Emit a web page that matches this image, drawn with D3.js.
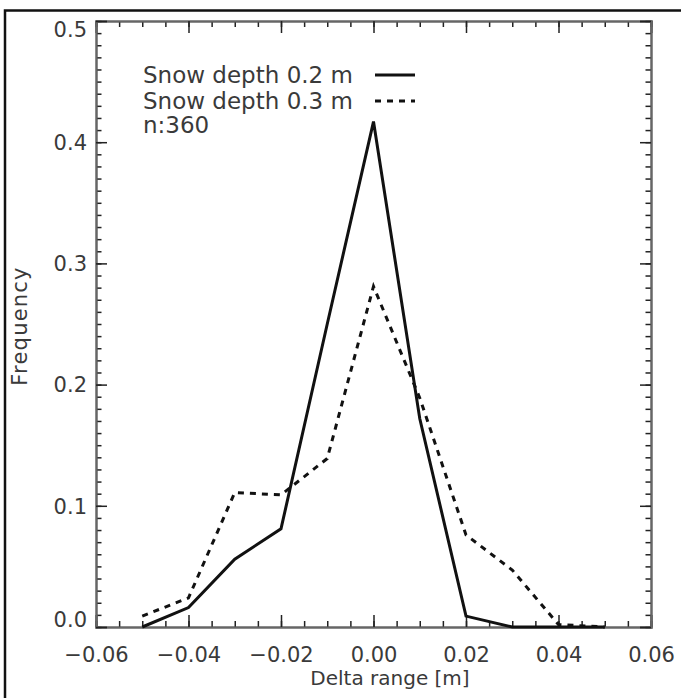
<!DOCTYPE html>
<html>
<head>
<meta charset="utf-8">
<script src="https://cdn.jsdelivr.net/npm/d3@7"></script>
<style>
  body { margin: 0; background: #fff; }
  svg text { font-family: "DejaVu Sans", sans-serif; fill: #3a3a3a; }
</style>
</head>
<body>
<svg id="chart" width="681" height="698"></svg>
<script>
// values
const deltaRange = [-0.05, -0.04, -0.03, -0.02, -0.01, 0.00, 0.01, 0.02, 0.03, 0.04, 0.05];
const depth02 = [0.000, 0.016, 0.056, 0.081, 0.250, 0.417, 0.172, 0.009, 0.000, 0.000, 0.000];
const depth03 = [0.009, 0.024, 0.111, 0.109, 0.139, 0.281, 0.189, 0.076, 0.047, 0.002, 0.000];
const xTicks = [-0.06, -0.04, -0.02, 0.00, 0.02, 0.04, 0.06];
const yTicks = [0.0, 0.1, 0.2, 0.3, 0.4, 0.5];
const legendLabels = ['Snow depth 0.2 m', 'Snow depth 0.3 m'];
const sampleNote = 'n:360';
const xTitle = 'Delta range [m]';
const yTitle = 'Frequency';

const svg = d3.select('#chart');
const plotL = 96, plotR = 651, plotT = 21, plotB = 627;

const x = d3.scaleLinear().domain([-0.06, 0.06]).range([plotL, plotR]);
const y = d3.scaleLinear().domain([0, 0.5]).range([plotB, plotT]);

// outer frame (runs off the right and bottom edges)
svg.append('rect')
  .attr('x', 5).attr('y', 10.5)
  .attr('width', 700).attr('height', 700)
  .attr('fill', 'none').attr('stroke', '#111').attr('stroke-width', 2.5);

// minor ticks first, majors on top
const xMinor = d3.range(-0.06, 0.0601, 0.005);
const yMinor = d3.range(0, 0.5001, 0.01);

function styleAxis(g) {
  g.select('.domain').attr('stroke', '#666').attr('stroke-width', 2);
  g.selectAll('.tick line').attr('stroke', '#222').attr('stroke-width', 1.5);
}

svg.append('g').attr('transform', `translate(0,${plotB})`)
  .call(d3.axisBottom(x).tickValues(xMinor).tickSize(-6).tickFormat(''))
  .call(styleAxis);
svg.append('g').attr('transform', `translate(0,${plotT})`)
  .call(d3.axisTop(x).tickValues(xMinor).tickSize(-6).tickFormat(''))
  .call(styleAxis);
svg.append('g').attr('transform', `translate(${plotL},0)`)
  .call(d3.axisLeft(y).tickValues(yMinor).tickSize(-5.5).tickFormat(''))
  .call(styleAxis);
svg.append('g').attr('transform', `translate(${plotR},0)`)
  .call(d3.axisRight(y).tickValues(yMinor).tickSize(-5.5).tickFormat(''))
  .call(styleAxis);

const xAxis = svg.append('g').attr('transform', `translate(0,${plotB})`)
  .call(d3.axisBottom(x).tickValues(xTicks).tickSize(-12).tickPadding(20).tickFormat(d3.format('.2f')))
  .call(styleAxis);
xAxis.selectAll('text')
  .attr('font-size', 21).attr('fill', '#3a3a3a');

svg.append('g').attr('transform', `translate(0,${plotT})`)
  .call(d3.axisTop(x).tickValues(xTicks).tickSize(-12).tickFormat(''))
  .call(styleAxis);

const yAxis = svg.append('g').attr('transform', `translate(${plotL},0)`)
  .call(d3.axisLeft(y).tickValues(yTicks).tickSize(-11).tickPadding(9).tickFormat(d3.format('.1f')))
  .call(styleAxis);
yAxis.selectAll('text')
  .attr('font-size', 21).attr('fill', '#3a3a3a')
  .attr('dy', d => d === 0 ? '-0.02em' : d === 0.5 ? '0.75em' : '0.35em');

svg.append('g').attr('transform', `translate(${plotR},0)`)
  .call(d3.axisRight(y).tickValues(yTicks).tickSize(-11).tickFormat(''))
  .call(styleAxis);

// axis titles
svg.append('text')
  .attr('x', 390).attr('y', 685)
  .attr('text-anchor', 'middle').attr('font-size', 20)
  .text(xTitle);

svg.append('text')
  .attr('transform', 'translate(27,326) rotate(-90)')
  .attr('text-anchor', 'middle').attr('font-size', 21)
  .attr('letter-spacing', 1.2)
  .text(yTitle);

// series
const series = [
  {label: legendLabels[0], values: depth02, dash: null},
  {label: legendLabels[1], values: depth03, dash: '6,6'}
];

const line = d3.line()
  .x((d, i) => x(deltaRange[i]))
  .y(d => y(d));

svg.selectAll('path.series')
  .data(series.slice().reverse())
  .enter().append('path')
  .attr('class', 'series')
  .attr('d', d => line(d.values))
  .attr('fill', 'none')
  .attr('stroke', '#111')
  .attr('stroke-width', 3)
  .attr('stroke-dasharray', d => d.dash);

// legend
const legend = svg.append('g').attr('transform', 'translate(143,0)');
const rowY = [83, 109];
series.forEach((s, i) => {
  legend.append('text')
    .attr('x', 0).attr('y', rowY[i])
    .attr('font-size', 23)
    .text(s.label);
  legend.append('line')
    .attr('x1', 232).attr('x2', 272)
    .attr('y1', rowY[i] - 8).attr('y2', rowY[i] - 8)
    .attr('stroke', '#111').attr('stroke-width', 3)
    .attr('stroke-dasharray', s.dash);
});
legend.append('text')
  .attr('x', 0).attr('y', 133)
  .attr('font-size', 23)
  .text(sampleNote);
</script>
</body>
</html>
